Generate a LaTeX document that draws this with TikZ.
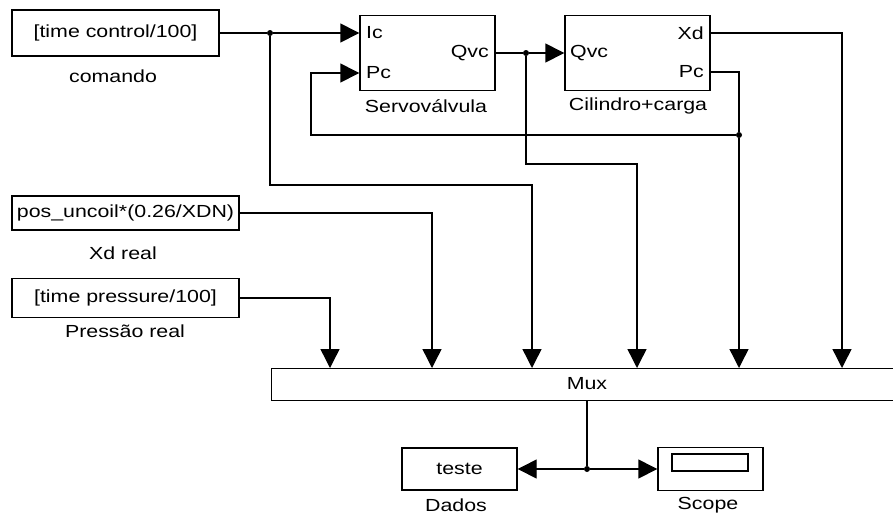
\documentclass[tikz,border=0pt]{standalone}
\usepackage{fontspec}
\setmainfont{Liberation Sans}[FakeStretch=1.22]
\usetikzlibrary{arrows.meta}
\begin{document}
\begin{tikzpicture}[x=1pt,y=-1pt,
  blk/.style={draw, line width=1.4pt, inner sep=0pt},
  wire/.style={line width=1.4pt},
  arr/.style={wire, -{Triangle[length=19pt,width=19pt]}},
  jdot/.style={circle, fill, inner sep=0pt, minimum size=6pt},
  txt/.style={font=\fontsize{17.5}{19}\selectfont, inner sep=0pt}]
\useasboundingbox[fill=white] (0,0) rectangle (893,515);

% source blocks
\node[blk, txt, minimum width=207pt, minimum height=46pt] (c1) at (115.5,33) {[time control/100]};
\node[txt] (c1l) at (113,76) {comando};
\node[blk, txt, minimum width=227pt, minimum height=34pt] (pos) at (125.5,213) {pos\_uncoil*(0.26/XDN)};
\node[txt] (posl) at (123,253) {Xd real};
\node[blk, txt, minimum width=227pt, minimum height=39pt] (pres) at (125.5,298) {[time pressure/100]};
\node[txt] (presl) at (125,331) {Pressão real};

% servo valve
\node[blk, minimum width=135pt, minimum height=75pt] (servo) at (427.5,53) {};
\node[txt, anchor=west] (ic) at (366,33) {Ic};
\node[txt, anchor=west] (pc) at (366,73) {Pc};
\node[txt, anchor=east] (qvc1) at (489,53) {Qvc};
\node[txt] (servol) at (426,106) {Servoválvula};

% cylinder
\node[blk, minimum width=145pt, minimum height=75pt] (cil) at (637.5,53) {};
\node[txt, anchor=west] (qvc2) at (570,53) {Qvc};
\node[txt, anchor=east] (xd) at (704,33) {Xd};
\node[txt, anchor=east] (pc2) at (704,72) {Pc};
\node[txt] (cill) at (638,106) {Cilindro+carga};

% mux
\node[blk, minimum width=629pt, minimum height=32pt, anchor=north west] (mux) at (271,368) {};
\node[txt] (muxl) at (587,384) {Mux};

% sinks
\node[blk, txt, minimum width=115pt, minimum height=42pt] (teste) at (459.5,469) {teste};
\node[txt] (dados) at (456,505) {Dados};
\node[blk, minimum width=105pt, minimum height=43pt] (scope) at (710.5,469) {};
\node[blk, minimum width=76pt, minimum height=17pt] (scr) at (710,462.5) {};
\node[txt] (scopel) at (708,505) {Scope};

% junctions
\node[jdot] (j1) at (270,33) {};
\node[jdot] (j2) at (526,53) {};
\node[jdot] (j3) at (739,135) {};
\node[jdot] (j4) at (587,469) {};

% wires
\draw[wire] (c1.east) -- (j1);
\draw[arr] (j1) -- ([yshift=20pt]servo.west);
\draw[arr] (j1) |- (532,185) -- ([xshift=261pt]mux.north west);

\draw[wire] (servo.east) -- (j2);
\draw[arr] (j2) -- (cil.west);
\draw[arr] (j2) |- (637,164) -- ([xshift=366pt]mux.north west);

\draw[arr] ([yshift=20pt]cil.east) -| ([xshift=571pt]mux.north west);
\draw[wire] ([yshift=-19pt]cil.east) -| (j3);
\draw[arr] (j3) -- ([xshift=468pt]mux.north west);
\draw[arr] (j3) -- (311,135) |- ([yshift=-20pt]servo.west);

\draw[arr] (pos.east) -| ([xshift=161pt]mux.north west);
\draw[arr] (pres.east) -| ([xshift=59pt]mux.north west);

\draw[wire] ([xshift=316pt]mux.south west) -- (j4);
\draw[arr] (j4) -- (teste.east);
\draw[arr] (j4) -- (scope.west);
\end{tikzpicture}
\end{document}
